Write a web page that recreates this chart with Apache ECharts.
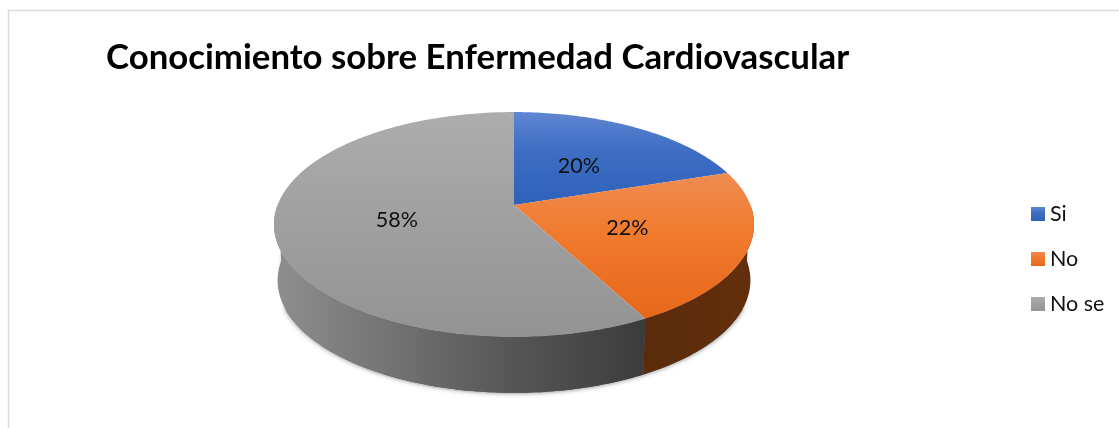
<!DOCTYPE html>
<html>
<head>
<meta charset="utf-8">
<title>Conocimiento sobre Enfermedad Cardiovascular</title>
<script src="https://cdn.jsdelivr.net/npm/echarts@6/dist/echarts.min.js"></script>
<style>
  html, body { margin: 0; padding: 0; background: #fff; }
  #chart { width: 1119px; height: 428px; }
</style>
</head>
<body>
<div id="chart"></div>
<script>
const categories = ["Si", "No", "No se"];
const values = [20, 22.2, 57.8];

const chart = echarts.init(document.getElementById("chart"));
const font = "Lato, Carlito, sans-serif";
const total = values.reduce((a, b) => a + b, 0);

// 透视饼图的投影参数
const cx = 514;
const cy = 205;
const radiusX = 236.4;
const radiusY = 109;
const tilt = 0.173;
const depth = 56;
const bottomScale = 0.985;

// angle: 从正上方顺时针的弧度, r: 0~1, bottom: 是否为底面
function project(angle, r, bottom) {
  const u = Math.sin(angle) * r;
  const v = -Math.cos(angle) * r;
  const w = 1 - tilt * v;
  const scale = bottom ? bottomScale : 1;
  return [
    cx + (radiusX * scale * u) / w,
    cy + (bottom ? depth : 0) + (radiusY * v) / w,
  ];
}

function arcPoints(start, end, bottom) {
  const steps = Math.max(2, Math.ceil((end - start) * 60));
  const pts = [];
  for (let i = 0; i <= steps; i++) {
    pts.push(project(start + ((end - start) * i) / steps, 1, bottom));
  }
  return pts;
}

function grad(c0, c1, c2) {
  return new echarts.graphic.LinearGradient(0, 0, 0, 1, [
    { offset: 0, color: c0 },
    { offset: 0.4, color: c1 },
    { offset: 1, color: c2 },
  ]);
}

const topFills = [
  grad("#5f86d2", "#3f6ec4", "#2e61b9"),
  grad("#ef8c53", "#f07b2e", "#e7671a"),
  grad("#adadad", "#a2a2a2", "#939393"),
];
const sideFills = [
  "#1d3c73",
  new echarts.graphic.LinearGradient(0, 0, 1, 0, [
    { offset: 0, color: "#5a2b0b" },
    { offset: 1, color: "#642f0c" },
  ]),
  new echarts.graphic.LinearGradient(277, 0, 645, 0, [
    { offset: 0, color: "#8e8e8e" },
    { offset: 0.65, color: "#555555" },
    { offset: 1, color: "#3c3c3c" },
  ], true),
];

function sidePolygon(start, end) {
  return arcPoints(start, end, false).concat(arcPoints(start, end, true).reverse());
}

function renderSlice(params, api) {
  const i = params.seriesIndex;
  const before = values.slice(0, i).reduce((a, b) => a + b, 0);
  const start = (before / total) * Math.PI * 2;
  const end = start + (api.value(0) / total) * Math.PI * 2;
  const mid = (start + end) / 2;
  const label = project(mid, 0.5, false);

  const face = [[cx, cy]].concat(arcPoints(start, end, false));
  const children = [
    {
      type: "polygon",
      z2: 2,
      shape: { points: face },
      style: { fill: topFills[i] },
    },
    {
      type: "text",
      z2: 3,
      style: {
        x: label[0],
        y: label[1] + 2,
        text: Math.round((api.value(0) / total) * 100) + "%",
        fill: "#111",
        font: "21.5px " + font,
        align: "center",
        verticalAlign: "middle",
      },
    },
  ];

  // 侧面只画朝向观众的半圈, 阴影单独一层, 避免压到相邻扇区
  const sideStart = Math.max(start, Math.PI / 2);
  const sideEnd = Math.min(end, (Math.PI * 3) / 2);
  if (sideEnd > sideStart) {
    children.push(
      {
        type: "polygon",
        z2: 0,
        shape: { points: sidePolygon(Math.max(sideStart, 2.0), Math.min(sideEnd, 4.28)) },
        style: { fill: "#555", shadowBlur: 5, shadowColor: "rgba(0,0,0,0.55)" },
      },
      {
        type: "polygon",
        z2: 1,
        shape: { points: sidePolygon(sideStart, sideEnd) },
        style: { fill: sideFills[i] },
      }
    );
  }
  return { type: "group", children };
}

const options = {
  animation: false,
  backgroundColor: "#fff",
  title: {
    text: "Conocimiento sobre Enfermedad Cardiovascular",
    left: 106,
    top: 40,
    padding: 0,
    textStyle: { fontFamily: font, fontWeight: "bold", fontSize: 34.8, color: "#000" },
  },
  legend: {
    orient: "vertical",
    left: 1031,
    top: 202,
    padding: 0,
    icon: "rect",
    itemWidth: 14,
    itemHeight: 14,
    itemGap: 21,
    selectedMode: false,
    data: categories,
    textStyle: { fontFamily: font, fontSize: 21.5, color: "#111", lineHeight: 24 },
  },
  // 图表外框: 只露出上边和左边
  graphic: [
    { type: "line", shape: { x1: 8, y1: 10.5, x2: 1119, y2: 10.5 }, style: { stroke: "#d9d9d9", lineWidth: 1.5 } },
    { type: "line", shape: { x1: 8.5, y1: 10, x2: 8.5, y2: 428 }, style: { stroke: "#d9d9d9", lineWidth: 1.5 } },
  ],
  series: categories.map((name, i) => ({
    name,
    type: "custom",
    coordinateSystem: "none",
    renderItem: renderSlice,
    itemStyle: { color: topFills[i] },
    data: [[values[i]]],
  })),
};

chart.setOption(options);
</script>
</body>
</html>
